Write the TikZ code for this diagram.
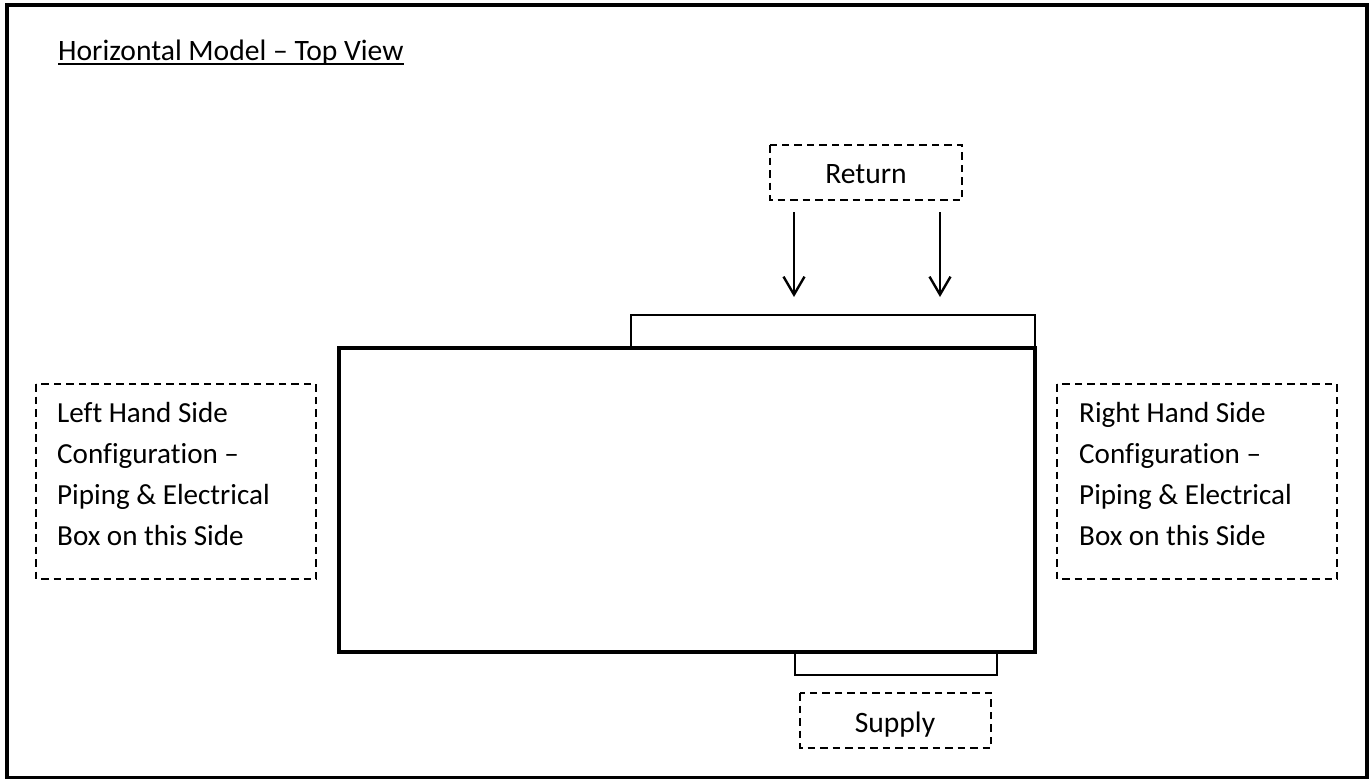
\documentclass[tikz,border=0pt]{standalone}
\usepackage{fontspec}
\setmainfont{Carlito}[Ligatures=NoCommon]
\usetikzlibrary{arrows.meta}
\tikzset{
  x=1pt,y=-1pt,
  frame/.style={draw=black,line width=4pt,fill=none},
  unit/.style={draw=black,line width=4pt,fill=none},
  stub/.style={draw=black,line width=2.4pt,fill=none},
  dashbox/.style={draw=black,line width=1.8pt,dash pattern=on 7.5pt off 5pt},
  flow/.style={draw=black,line width=2.4pt,-{Straight Barb[length=18pt,width=21pt,line width=2.4pt]}},
  label/.style={font=\fontsize{29.6}{30}\selectfont,inner sep=0pt,text=black},
  boxtext/.style={font=\fontsize{29.1}{30}\selectfont,inner sep=0pt,text=black,anchor=base west},
}
\begin{document}
\begin{tikzpicture}
\useasboundingbox (0,0) rectangle (1369,779);
\fill[white] (0,0) rectangle (1369,779);
\draw[frame] (6.5,4.5) rectangle (1366.5,777.5);
\node[label,anchor=base west] (title) at (58,60.5) {Horizontal Model – Top View};
\draw[line width=1.8pt] (title.base west)+(0,3.6) -- ([yshift=-3.6pt]title.base east);
% dashed boxes
\draw[dashbox] (770,145) rectangle (962,200);
\node[label,anchor=base] (return) at (866,183) {Return};
\draw[dashbox] (800,693) rectangle (991,748);
\node[label,anchor=base] (supply) at (895,732) {Supply};
\draw[dashbox] (36,384) rectangle (316,579);
\node[boxtext] (l1) at (57,422.5) {Left Hand Side};
\node[boxtext] (l2) at (57,463.5) {Configuration –};
\node[boxtext] (l3) at (57,504.5) {Piping \& Electrical};
\node[boxtext] (l4) at (57,545.5) {Box on this Side};
\draw[dashbox] (1057,384) rectangle (1337,579);
\node[boxtext] (r1) at (1079,422.5) {Right Hand Side};
\node[boxtext] (r2) at (1079,463.5) {Configuration –};
\node[boxtext] (r3) at (1079,504.5) {Piping \& Electrical};
\node[boxtext] (r4) at (1079,545.5) {Box on this Side};
% unit
\draw[stub] (631,348) -- (631,315) -- (1035,315) -- (1035,348);
\draw[stub] (795,652) -- (795,675) -- (997,675) -- (997,652);
\draw[unit] (339,348) rectangle (1035,652);
% arrows
\coordinate (a1s) at (794,212);
\coordinate (a1e) at (794,297);
\coordinate (a2s) at (940,212);
\coordinate (a2e) at (940,297);
\draw[flow] (a1s) -- (a1e);
\draw[flow] (a2s) -- (a2e);
\end{tikzpicture}
\end{document}
